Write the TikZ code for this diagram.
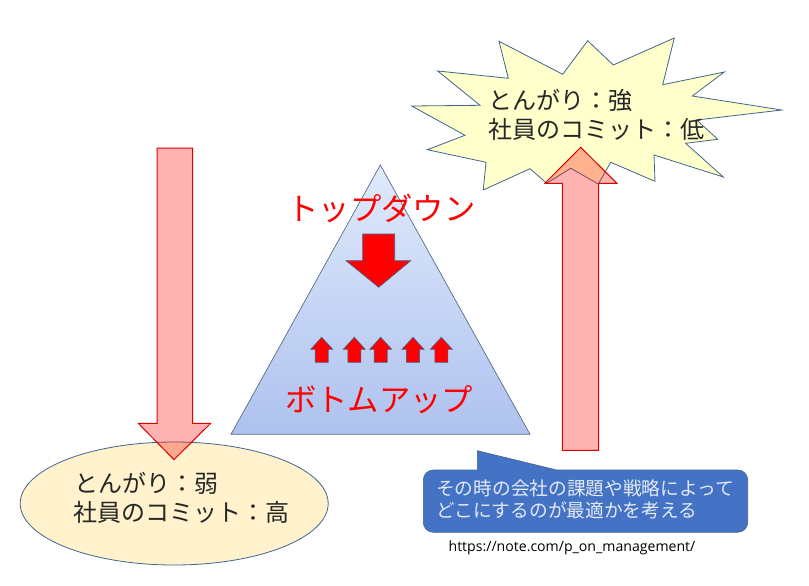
\documentclass[tikz,border=0pt]{standalone}
\usepackage{fontspec}
\setmainfont{Open Sans}
\newfontfamily\jpfont{Noto Sans CJK JP}
\definecolor{outlineblue}{HTML}{41648F}
\definecolor{starfill}{HTML}{FFFFCC}
\definecolor{ellfill}{HTML}{FFF2CC}
\definecolor{calloutblue}{HTML}{4472C4}
\definecolor{arrowred}{HTML}{E00000}
\definecolor{tritop}{HTML}{E0EAFC}
\definecolor{tribottom}{HTML}{AEC2EE}
\tikzset{
  softarrow/.style={draw=arrowred,line width=1pt,fill=red,fill opacity=.3,draw opacity=1},
  solidarrow/.style={draw=outlineblue,line width=.6pt,fill=red},
  bubbletext/.style={font=\jpfont\fontsize{24}{29}\selectfont,align=left,anchor=west,inner sep=0pt,text=black!85},
  redtitle/.style={font=\jpfont\fontsize{31.3}{36}\selectfont,text=red,inner sep=0pt},
}
\newcommand{\smallup}[1]{\draw[solidarrow] (#1,337.3) -- (#1+11,349.3) -- (#1+6.5,349.3) -- (#1+6.5,362.3) -- (#1-6.5,362.3) -- (#1-6.5,349.3) -- (#1-11,349.3) -- cycle;}
\begin{document}
\begin{tikzpicture}[x=1pt,y=-1pt]
\useasboundingbox (0,0) rectangle (809,586);
% triangle
\path[draw=outlineblue!70!gray,line width=.7pt,top color=tritop,bottom color=tribottom]
  (380.3,165) -- (530,434.3) -- (231,434.3) -- cycle;
% ellipse
\draw[outlineblue,line width=.8pt,fill=ellfill] (174.2,503.5) ellipse [x radius=154,y radius=61.5];
% star
\draw[outlineblue,line width=.8pt,fill=starfill]
  (411.7,106) -- (480,105.3) -- (437.7,71) -- (508.3,78.3) -- (499,41.3) -- (562.7,74.3) -- (587.7,40.7) -- (613.3,65) -- (674.3,38) -- (662.7,84.7) -- (724.3,72) -- (692.3,96) -- (781.7,110) -- (696.7,120) -- (717.7,139.3) -- (685.7,143.3) -- (723.3,177) -- (654,155) -- (655,181.3) -- (610.7,162.3) -- (598.3,184) -- (570.7,168.3) -- (546.7,183.3) -- (530,168.7) -- (483.3,190) -- (486,162.3) -- (427.3,149.7) -- (465,135.3) -- cycle;
% big soft arrows
\draw[softarrow] (157,148) -- (192.7,148) -- (192.7,423.3) -- (210.7,423.3) -- (174,459.7) -- (138.3,423.3) -- (157,423.3) -- cycle;
\draw[softarrow] (562.3,450.3) -- (598.7,450.3) -- (598.7,183.3) -- (617,183.3) -- (580.7,147.3) -- (545,183.3) -- (562.3,183.3) -- cycle;
% solid arrows
\draw[solidarrow] (362.7,234) -- (394.7,234) -- (394.7,260.7) -- (410.7,260.7) -- (378.7,287.3) -- (346,260.7) -- (362.7,260.7) -- cycle;
\smallup{321.7}
\smallup{354.3}
\smallup{380.7}
\smallup{413}
\smallup{441.3}
% callout
\draw[outlineblue,line width=.6pt,fill=calloutblue]
  (433.3,470) -- (477.3,470) -- (477.3,450.7) -- (556.7,470) -- (737.7,470)
  arc[start angle=-90,end angle=0,radius=10] -- (747.7,522.3)
  arc[start angle=0,end angle=90,radius=10] -- (433.3,532.3)
  arc[start angle=90,end angle=180,radius=10] -- (423.3,480)
  arc[start angle=180,end angle=270,radius=10] -- cycle;
% texts
\node[redtitle] (top) at (381.5,208) {トップダウン};
\node[redtitle] (bottom) at (379,400) {ボトムアップ};
\node[bubbletext] (startext) at (488,114.5) {\hspace*{.5pt}とんがり：強\\社員のコミット：低};
\node[bubbletext] (elltext) at (73.5,497.5) {\hspace*{.5pt}とんがり：弱\\社員のコミット：高};
\node[font=\jpfont\fontsize{18.7}{22.5}\selectfont,text=white!85!calloutblue,align=left,anchor=west,inner sep=0pt] (calltext) at (436,499.5) {その時の会社の課題や戦略によって\\どこにするのが最適かを考える};
\node[font=\fontsize{14.1}{16}\selectfont,text=black,inner sep=0pt,anchor=center] (url) at (572,547.5) {https://note.com/p\_on\_management/};
\end{tikzpicture}
\end{document}
